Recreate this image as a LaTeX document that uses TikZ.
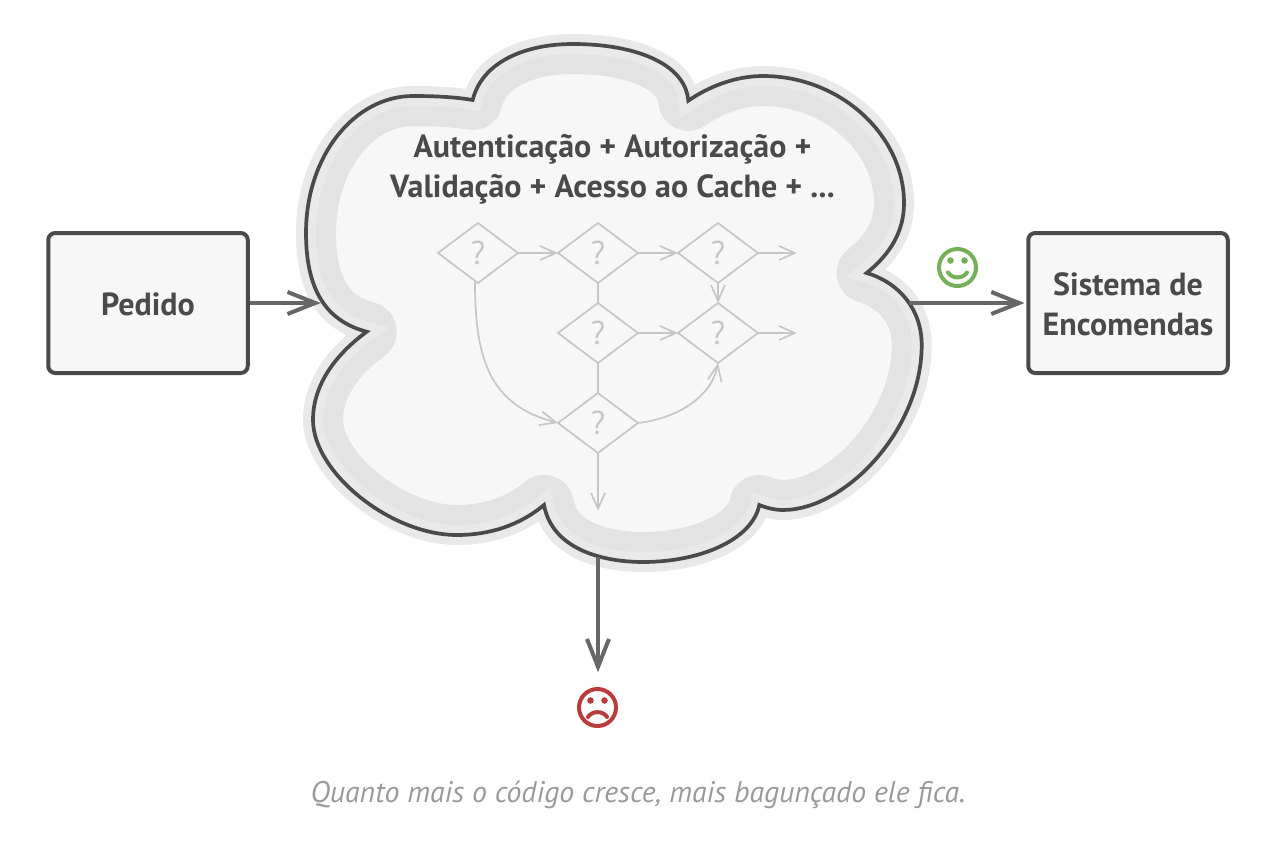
\documentclass[tikz,border=0pt]{standalone}
\usepackage{fontspec}
\setmainfont{PT Sans}
\usetikzlibrary{arrows.meta,shapes.geometric}
\definecolor{ink}{HTML}{4A4A4A}
\definecolor{wire}{HTML}{666666}
\definecolor{pale}{HTML}{C6C6C6}
\definecolor{paper}{HTML}{F7F7F7}
\definecolor{band}{HTML}{E3E3E3}
\definecolor{halo}{HTML}{E9E9E9}
\definecolor{happy}{HTML}{74B058}
\definecolor{sad}{HTML}{B93C3C}
\definecolor{note}{HTML}{9A9A9A}
\pgfdeclarearrow{
  name=Chev,
  defaults={length=33pt,width=22pt,line width=4pt},
  setup code={
    \pgfarrowssettipend{0pt}
    \pgfarrowssetlineend{-2\pgfarrowlinewidth}
    \pgfarrowssetbackend{-\pgfarrowlength}
    \pgfarrowssavethe\pgfarrowlength
    \pgfarrowssavethe\pgfarrowwidth
    \pgfarrowssavethe\pgfarrowlinewidth
  },
  parameters={\the\pgfarrowlength,\the\pgfarrowwidth,\the\pgfarrowlinewidth},
  drawing code={
    \pgfsetdash{}{0pt}
    \pgfsetmiterjoin
    \pgfsetbuttcap
    \pgfsetlinewidth{\pgfarrowlinewidth}
    \pgfpathmoveto{\pgfqpoint{-\pgfarrowlength}{0.5\pgfarrowwidth}}
    \pgfpathlineto{\pgfqpoint{-1.3\pgfarrowlinewidth}{0pt}}
    \pgfpathlineto{\pgfqpoint{-\pgfarrowlength}{-0.5\pgfarrowwidth}}
    \pgfusepathqstroke
  }
}
\tikzset{
  x=1pt,y=-1pt,
  boxnode/.style={draw=ink,fill=paper,line width=4pt,rounded corners=7pt,minimum width=199.5pt,minimum height=140pt,inner sep=0pt,align=center,text=ink},
  boxtext/.style={font=\fontsize{32}{40}\selectfont\bfseries,text=ink,align=center,inner sep=0pt},
  ask/.style={diamond,draw=pale,line width=1.7pt,minimum width=80pt,minimum height=60pt,inner sep=0pt,outer sep=0pt,aspect=1.333,text=pale,font=\fontsize{33}{33}\selectfont},
  thin flow/.style={draw=pale,line width=1.7pt},
  thin arrow/.style={thin flow,-{Chev[length=18pt,width=14pt,line width=1.7pt]}},
  heavy arrow/.style={draw=wire,line width=4pt,-{Chev[length=33pt,width=22pt,line width=4pt]}},
  face/.style={circle,line width=4pt,minimum size=37pt,inner sep=0pt,fill=white},
}
\def\cloudpath{
  (472.7,100)
  .. controls (482,62) and (525,44) .. (573,44)
  .. controls (632,44) and (685,62) .. (688.3,100.7)
  .. controls (708,87) and (735,76) .. (763,76)
  .. controls (840,76) and (904,135) .. (904,203)
  .. controls (904,232) and (890,254) .. (866.7,273)
  .. controls (900,283) and (921.7,310) .. (921.7,345)
  .. controls (921.7,430) and (845,510) .. (783,510)
  .. controls (775,510) and (767,508) .. (759.3,505)
  .. controls (752,540) and (700,562) .. (643,562)
  .. controls (600,562) and (552,548) .. (544,505)
  .. controls (520,525) and (490,535) .. (457,535)
  .. controls (390,535) and (313,472) .. (313,420)
  .. controls (313,385) and (335,355) .. (366.7,331.7)
  .. controls (330,322) and (306,295) .. (306,233)
  .. controls (306,155) and (355,96) .. (413,96)
  .. controls (435,96) and (455,97) .. (472.7,100)
  -- cycle
}
\begin{document}
\begin{tikzpicture}
\useasboundingbox (0,0) rectangle (1288,856);
\fill[white] (0,0) rectangle (1288,856);
% cloud
\draw[halo,line width=20pt,line join=miter] \cloudpath;
\fill[paper] \cloudpath;
\begin{scope}
  \clip \cloudpath;
  \draw[band,line width=60pt,line join=round] \cloudpath;
  \draw[halo,line width=20pt,line join=miter] \cloudpath;
\end{scope}
\draw[ink,line width=3.7pt,line join=miter] \cloudpath;
% title
\node[boxtext] (title) at (612.5,169) {Autenticação + Autorização +\\Validação + Acesso ao Cache + ...};
% flow
\node[ask] (d1) at (478,253) {?};
\node[ask] (d2) at (598,253) {?};
\node[ask] (d3) at (718,253) {?};
\node[ask] (d4) at (598,333) {?};
\node[ask] (d5) at (718,333) {?};
\node[ask] (d6) at (598,423) {?};
\coordinate (e3) at (797,253);
\coordinate (e5) at (797,333);
\coordinate (e6) at (598,511);
\draw[thin arrow] (d1.east) -- (d2.west);
\draw[thin arrow] (d2.east) -- (d3.west);
\draw[thin arrow] (d3.east) -- (e3);
\draw[thin arrow] (d3.south) -- (d5.north);
\draw[thin flow] (d2.south) -- (d4.north);
\draw[thin flow] (d4.south) -- (d6.north);
\draw[thin arrow] (d4.east) -- (d5.west);
\draw[thin arrow] (d5.east) -- (e5);
\draw[thin arrow] (d6.south) -- (e6);
\draw[thin arrow] (d1.south) ++(-3,-1) .. controls +(0,78) and +(-68,-18) .. (d6.west);
\draw[thin arrow] (d6.east) .. controls +(42,-5) and +(-6,32) .. (d5.south);
% boxes
\node[boxnode] (req) at (148,303) {};
\node[boxtext] (reqt) at (148,304) {Pedido};
\node[boxnode] (sys) at (1128,303) {};
\node[boxtext] (syst) at (1128,304.5) {Sistema de\\Encomendas};
\coordinate (cin) at (320.5,303);
\coordinate (cout) at (909,303);
\coordinate (cdown) at (598,557);
\coordinate (sadtip) at (598,672);
\draw[heavy arrow] (req.east) -- (cin);
\draw[heavy arrow,shorten >=2pt] (cout) -- (sys.west);
\draw[heavy arrow] (cdown) -- (sadtip);
% faces
\node[face,draw=happy] (good) at (957.5,267.5) {};
\fill[happy] (950.5,260.5) circle (3.3);
\fill[happy] (964.5,260.5) circle (3.3);
\draw[happy,line width=4pt,line cap=round] (948,272.5) .. controls (952,279) and (963,279) .. (967,272.5);
\node[face,draw=sad] (bad) at (597.5,707.5) {};
\fill[sad] (590.5,700.5) circle (3.3);
\fill[sad] (604.5,700.5) circle (3.3);
\draw[sad,line width=4pt,line cap=round] (588,717) .. controls (592,710.5) and (603,710.5) .. (607,717);
% caption
\node[text=note,font=\fontsize{29.8}{36}\selectfont\itshape] (cap) at (638,794.5) {Quanto mais o código cresce, mais bagunçado ele fica.};
\end{tikzpicture}
\end{document}
